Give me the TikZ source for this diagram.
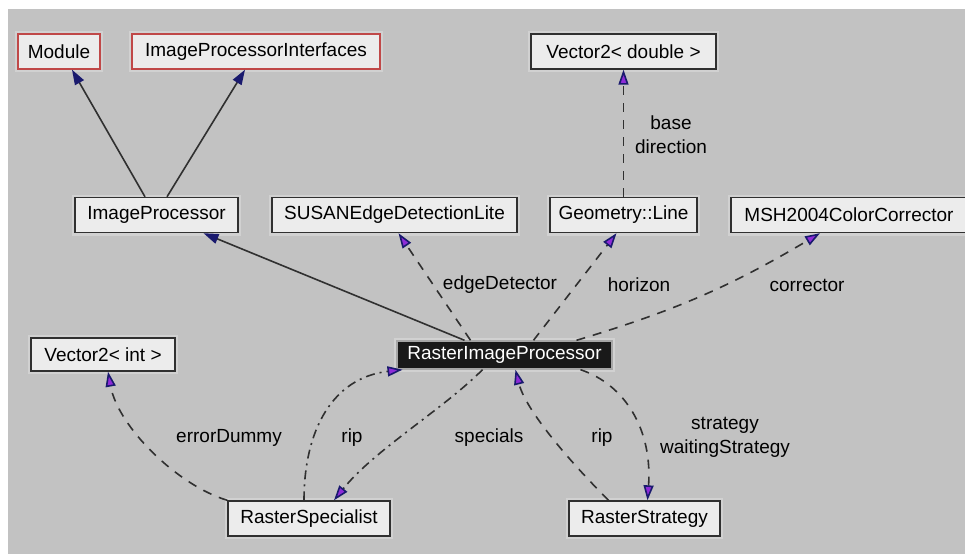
\documentclass[tikz,border=0pt]{standalone}
\usepackage{fontspec}
\setmainfont{Liberation Sans}
\usetikzlibrary{arrows.meta,calc}
\definecolor{bgc}{HTML}{C2C2C2}
\definecolor{boxc}{HTML}{ECECEC}
\definecolor{edgec}{HTML}{303030}
\definecolor{redc}{HTML}{C04848}
\definecolor{navyc}{HTML}{1A1A6E}
\definecolor{purpc}{HTML}{8E2BD8}
\begin{document}
\begin{tikzpicture}[x=1pt,y=-1pt,
  txt/.style={font=\fontsize{19}{24}\selectfont},
  cls/.style={txt, draw=edgec, fill=boxc, line width=1.4pt, minimum height=35pt,
    inner xsep=0pt, inner ysep=0pt,
    preaction={draw=white, line width=6pt, opacity=0.25}},
  redcls/.style={cls, draw=redc},
  lbl/.style={txt, inner sep=1pt, align=center},
  inh/.style={draw=edgec, line width=1.6pt,
    -{Triangle[length=15pt,width=10pt,color=navyc,fill=navyc]}},
  usedash/.style={draw=edgec, line width=1.6pt, dash pattern=on 9pt off 8pt,
    -{Triangle[length=15pt,width=10pt,color=navyc,fill=purpc]}},
  usedot/.style={draw=edgec, line width=1.6pt, dash pattern=on 9pt off 5pt on 2pt off 5pt,
    -{Triangle[length=15pt,width=10pt,color=navyc,fill=purpc]}}
]
\useasboundingbox (0,0) rectangle (965,554);
\fill[white] (0,0) rectangle (965,554);
\fill[bgc] (8,9) rectangle (965,554);

% nodes
\node[redcls, minimum width=82pt]  (mod) at (59,51.5) {Module};
\node[redcls, minimum width=248pt] (ipi) at (256,51.5) {ImageProcessorInterfaces};
\node[cls, minimum width=185pt]    (vd)  at (623.5,51.5) {Vector2< double >};
\node[cls, minimum width=163pt]    (ip)  at (156.5,215) {ImageProcessor};
\node[cls, minimum width=245pt]    (susan) at (394.5,215) {SUSANEdgeDetectionLite};
\node[cls, minimum width=147pt]    (geo) at (623.5,215) {Geometry::Line};
\node[cls, minimum width=236pt]    (msh) at (849,215) {MSH2004ColorCorrector};
\node[cls, minimum width=144pt, minimum height=33pt] (vi) at (103,354.5) {Vector2< int >};
\node[cls, minimum width=215pt, minimum height=28pt, fill=black!90, draw=gray!70,
      text=white] (rip) at (504.5,355) {RasterImageProcessor};
\node[cls, minimum width=162pt]    (rs)  at (309,518.5) {RasterSpecialist};
\node[cls, minimum width=151pt]    (rst) at (644.5,518.5) {RasterStrategy};

% labels
\node[lbl] (lbase) at (671,134.5) {base\\direction};
\node[lbl] (ledge) at (500,285) {edgeDetector};
\node[lbl] (lhor)  at (639,285) {horizon};
\node[lbl] (lcor)  at (807,285) {corrector};
\node[lbl] (lerr)  at (229,438) {errorDummy};
\node[lbl] (lrip1) at (352,438) {rip};
\node[lbl] (lspec) at (489,438) {specials};
\node[lbl] (lrip2) at (602,438) {rip};
\node[lbl] (lstr)  at (725,437.5) {strategy\\waitingStrategy};

% inheritance
\draw[inh] ([xshift=-11.5pt]ip.north) -- ([xshift=13pt]mod.south);
\draw[inh] ([xshift=10.5pt]ip.north) -- ([xshift=-11pt]ipi.south);
\draw[inh] ([xshift=-40pt]rip.north) -- ([xshift=47pt]ip.south);

% usage
\draw[usedash] ([xshift=-34pt]rip.north) -- ([xshift=4pt]susan.south);
\draw[usedash] ([xshift=29pt]rip.north) -- ([xshift=-7pt]geo.south);
\draw[usedash] ([xshift=72pt]rip.north) to[bend right=7] ([xshift=-29pt]msh.south);
\draw[usedash] (geo.north) -- (vd.south);
\draw[usedash] (rs.north west) .. controls +(-50,-15) and +(10,55) .. ([xshift=5pt]vi.south);
\draw[usedot] ([xshift=-5pt]rs.north) .. controls +(0,-70) and +(-70,8) .. ([xshift=-102pt]rip.south);
\draw[usedot] ([xshift=-22pt]rip.south) .. controls +(-40,40) and +(40,-50) .. ([xshift=25pt]rs.north);
\draw[usedash] ([xshift=-36pt]rst.north) .. controls +(-40,-40) and +(10,40) .. ([xshift=11pt]rip.south);
\draw[usedash] ([xshift=76pt]rip.south) .. controls +(45,15) and +(5,-70) .. ([xshift=3pt]rst.north);
\end{tikzpicture}
\end{document}
